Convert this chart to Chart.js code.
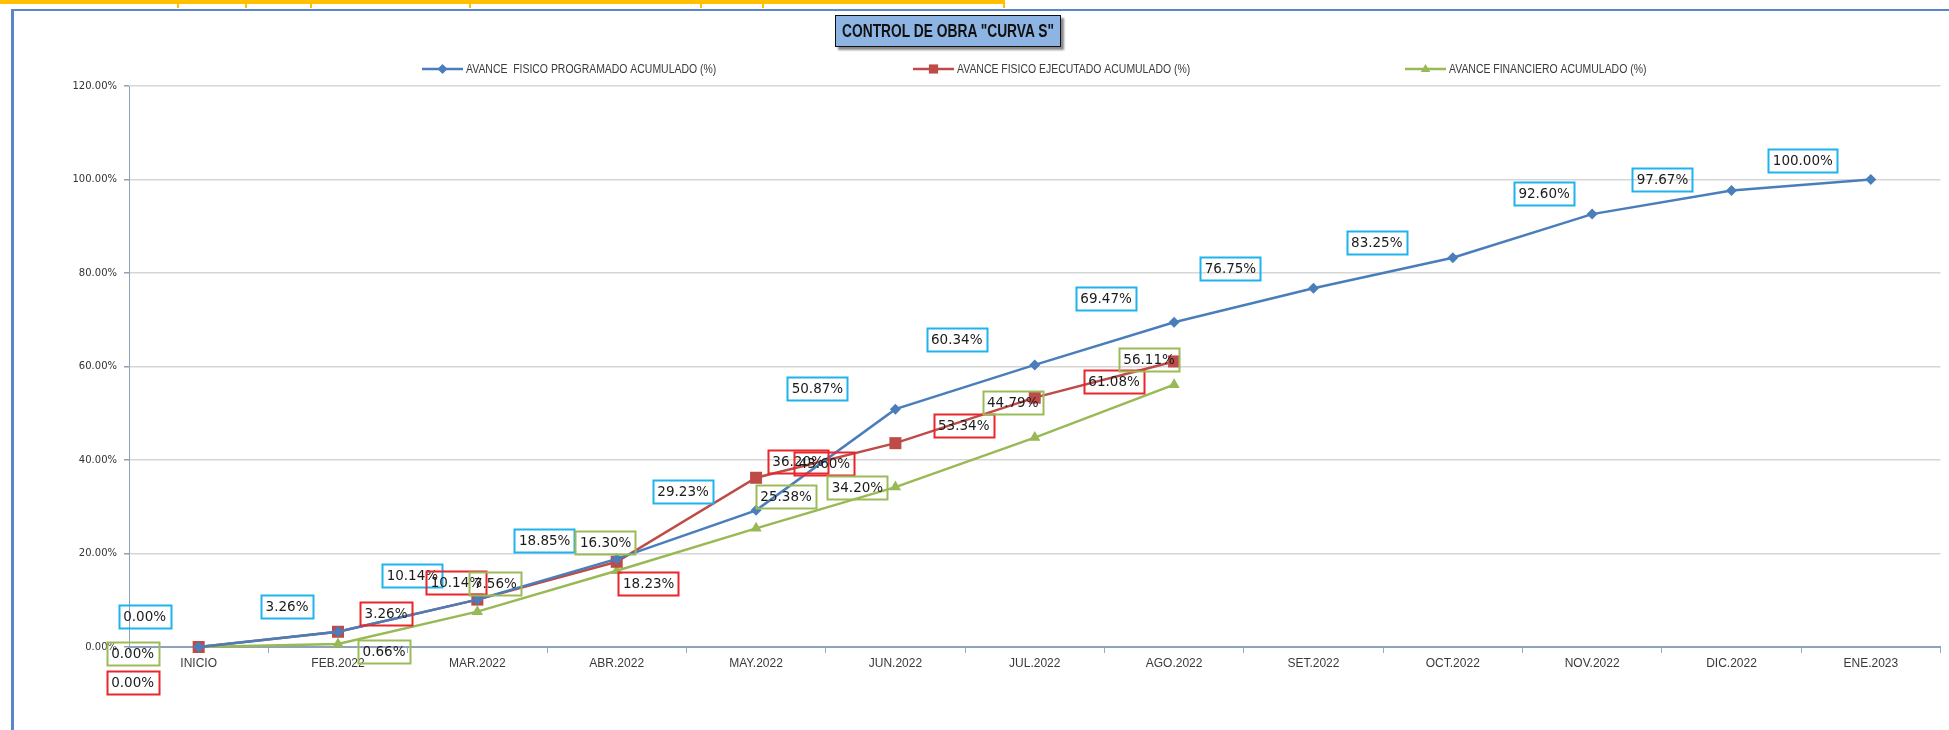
<!DOCTYPE html>
<html lang="es">
<head>
<meta charset="utf-8">
<title>Control de obra - Curva S</title>
<script src="https://cdn.jsdelivr.net/npm/chart.js@4.4.1/dist/chart.umd.min.js"></script>
<style>
  html, body { margin: 0; padding: 0; background: #fff; }
  body { width: 1949px; height: 730px; position: relative; overflow: hidden; }
  #franja { position: absolute; left: 0; top: 0; width: 1003px; height: 4px; background: #FFC000; }
  .corte { position: absolute; top: 0; width: 2px; height: 8px; background: #FFC000; }
  #marco { position: absolute; left: 11px; top: 9px; width: 1960px; height: 740px;
    border-left: 3px solid #5A87C8; border-top: 2.5px solid #5A87C8; }
  #titulo { position: absolute; left: 835px; top: 15px; width: 224px; height: 30px;
    background: #8DB4E2; border: 1.5px solid #111; box-shadow: 3px 3px 2px #8a8a8a; overflow: hidden; }
  #titulo span { position: absolute; left: 6px; top: 0; white-space: nowrap; transform-origin: 0 50%;
    font: bold 19px "Liberation Sans", sans-serif; line-height: 30px; color: #111; }
  #grafico { position: absolute; left: 0; top: 0; }
</style>
</head>
<body>
<div id="franja"></div>
<div class="corte" style="left:177px"></div>
<div class="corte" style="left:245px"></div>
<div class="corte" style="left:310px"></div>
<div class="corte" style="left:469px"></div>
<div class="corte" style="left:700px"></div>
<div class="corte" style="left:762px"></div>
<div class="corte" style="left:1003px"></div>
<div id="marco"></div>
<canvas id="grafico" width="1949" height="730"></canvas>
<div id="titulo"><span>CONTROL DE OBRA "CURVA S"</span></div>
<script>
'use strict';

// ---------- datos ----------
const meses = ['INICIO', 'FEB.2022', 'MAR.2022', 'ABR.2022', 'MAY.2022', 'JUN.2022', 'JUL.2022',
  'AGO.2022', 'SET.2022', 'OCT.2022', 'NOV.2022', 'DIC.2022', 'ENE.2023'];
const programado = [0, 3.26, 10.14, 18.85, 29.23, 50.87, 60.34, 69.47, 76.75, 83.25, 92.60, 97.67, 100];
const ejecutado = [0, 3.26, 10.14, 18.23, 36.20, 43.60, 53.34, 61.08];
const financiero = [0, 0.66, 7.56, 16.30, 25.38, 34.20, 44.79, 56.11];
const yTicks = [0, 20, 40, 60, 80, 100, 120];

// desplazamiento de cada etiqueta respecto a su punto (px), como en la hoja original
const offProg = [[-54, -31], [-51, -25], [-65, -24], [-72, -18], [-73, -19], [-78, -21], [-78, -25],
  [-68, -24], [-83, -20], [-76, -15], [-48, -21], [-69, -11], [-68, -19]];
const offEjec = [[-66, 35], [48, -18], [-21, -17], [32, 22], [42, -16], [-71, 20], [-71, 28], [-60, 20]];
const offFin = [[-66, 6], [46, 8], [18, -28], [-11, -28], [30, -32], [-38, 0], [-22, -35], [-25, -25]];

const AZUL = '#4A7EBB', ROJO = '#BE4B48', VERDE = '#98B954';
const posLeyenda = [466, 957, 1449];   // inicio del texto de cada entrada
const ESTRECHO = 0.87;                 // imita la letra condensada de la hoja

// ---------- título: ajustar ancho del texto a la caja ----------
(function () {
  const sp = document.querySelector('#titulo span');
  const k = 212 / sp.getBoundingClientRect().width;
  sp.style.transform = `scaleX(${k})`;
})();

// ---------- marcador (rombo / cuadrado / triángulo) ----------
function marcador(ctx, estilo, x, y, r) {
  ctx.beginPath();
  if (estilo === 'rectRot') {
    ctx.moveTo(x, y - r); ctx.lineTo(x + r, y); ctx.lineTo(x, y + r); ctx.lineTo(x - r, y);
  } else if (estilo === 'rect') {
    const s = r * Math.SQRT1_2;
    ctx.rect(x - s, y - s, 2 * s, 2 * s);
  } else {
    ctx.moveTo(x, y - r); ctx.lineTo(x + r * 0.95, y + r * 0.6); ctx.lineTo(x - r * 0.95, y + r * 0.6);
  }
  ctx.closePath(); ctx.fill();
}

// ---------- plugins ----------
const etiquetas = {
  id: 'etiquetas',
  afterDatasetsDraw(chart) {
    const ctx = chart.ctx;
    ctx.save();
    ctx.font = '13.5px "DejaVu Sans", sans-serif';
    ctx.textAlign = 'center'; ctx.textBaseline = 'middle';
    chart.data.datasets.forEach((ds, i) => {
      const meta = chart.getDatasetMeta(i);
      meta.data.forEach((pt, j) => {
        const v = ds.data[j];
        if (v == null) return;
        const [dx, dy] = ds.desplaz[j];
        const txt = v.toFixed(2) + '%';
        const w = ctx.measureText(txt).width + 9, h = 23;
        const cx = pt.x + dx, cy = pt.y + dy;
        ctx.lineWidth = 2; ctx.strokeStyle = ds.colorEtiqueta;
        ctx.strokeRect(Math.round(cx - w / 2) + 0.5, Math.round(cy - h / 2) + 0.5, Math.round(w), h);
        ctx.fillStyle = '#1b1b1b';
        ctx.fillText(txt, cx, cy + 1);
      });
    });
    ctx.restore();
  }
};

const leyenda = {
  id: 'leyenda',
  afterDraw(chart) {
    const ctx = chart.ctx;
    ctx.save();
    ctx.font = '12px "Liberation Sans", sans-serif';
    ctx.textBaseline = 'middle';
    chart.data.datasets.forEach((ds, i) => {
      const xt = posLeyenda[i], y = 69, x0 = xt - 44;
      ctx.strokeStyle = ds.borderColor; ctx.fillStyle = ds.borderColor; ctx.lineWidth = 2.5;
      ctx.beginPath(); ctx.moveTo(x0, y); ctx.lineTo(x0 + 41, y); ctx.stroke();
      marcador(ctx, ds.pointStyle, x0 + 20.5, y, ds.pointStyle === 'rect' ? 6.5 : 5);
      ctx.fillStyle = '#3a3a3a';
      ctx.save();
      ctx.translate(xt, y + 1); ctx.scale(ESTRECHO, 1);
      ctx.fillText(ds.label, 0, 0);
      ctx.restore();
    });
    ctx.restore();
  }
};

function serie(label, data, color, estilo, radio, colorEtiqueta, desplaz) {
  return {
    label, data, borderColor: color, backgroundColor: color, borderWidth: 2.5,
    pointStyle: estilo, pointRadius: radio, pointHoverRadius: radio, pointBorderWidth: 0,
    pointBackgroundColor: color, tension: 0, clip: false, colorEtiqueta, desplaz
  };
}

new Chart(document.getElementById('grafico'), {
  type: 'line',
  data: {
    labels: meses,
    datasets: [
      serie('AVANCE  FISICO PROGRAMADO ACUMULADO (%)', programado, AZUL, 'rectRot', 5.5, '#1FB3EC', offProg),
      serie('AVANCE FISICO EJECUTADO ACUMULADO (%)', ejecutado, ROJO, 'rect', 8.5, '#E8262B', offEjec),
      serie('AVANCE FINANCIERO ACUMULADO (%)', financiero, VERDE, 'triangle', 6.5, '#9BBB59', offFin)
    ]
  },
  options: {
    responsive: false, animation: false,
    layout: { padding: { top: 86, right: 0, bottom: 42, left: 0 } },
    plugins: { legend: { display: false }, tooltip: { enabled: false } },
    scales: {
      x: {
        offset: true,
        grid: { offset: true, drawOnChartArea: false, drawTicks: true, tickLength: 6, tickColor: '#9AAABF', tickWidth: 1 },
        border: { color: '#8EA2BA', width: 2 },
        ticks: { color: '#3a3a3a', font: { family: '"Liberation Sans", sans-serif', size: 12 }, padding: 3,
          maxRotation: 0, autoSkip: false },
        afterFit: (s) => { s.height = 41; }
      },
      y: {
        min: 0, max: 120,
        afterBuildTicks: (s) => { s.ticks = yTicks.map(v => ({ value: v })); },
        grid: { color: '#D6D6D6', lineWidth: 1.5, drawTicks: true, tickLength: 5, tickColor: '#8EA2BA' },
        border: { color: '#8EA2BA', width: 1 },
        ticks: { color: '#333', font: { family: '"DejaVu Sans", sans-serif', size: 10 }, padding: 7,
          callback: (v) => v.toFixed(2) + '%' },
        afterFit: (s) => { s.width = 129; }
      }
    }
  },
  plugins: [etiquetas, leyenda]
});
</script>
</body>
</html>
